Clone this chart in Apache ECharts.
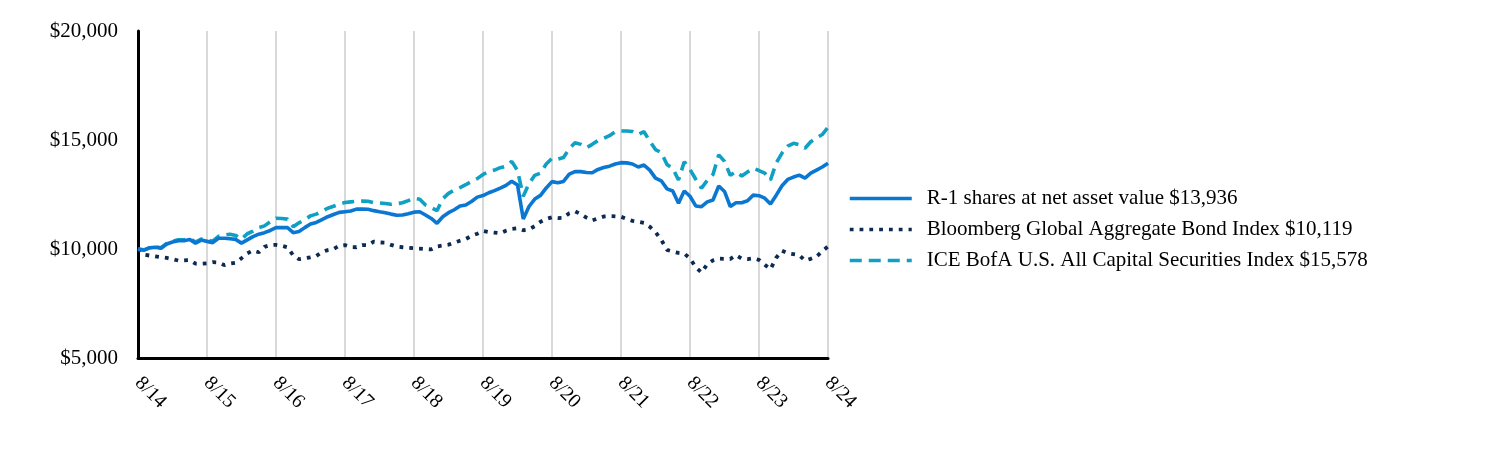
<!DOCTYPE html>
<html>
<head>
<meta charset="utf-8">
<script src="https://cdn.jsdelivr.net/npm/echarts@6/dist/echarts.min.js"></script>
<style>
html,body{margin:0;padding:0;background:#fff;}
#c{width:1512px;height:456px;}
</style>
</head>
<body>
<div id="c"></div>
<script>
// Monthly dates 8/14 .. 8/24
const months = [];
for (let y = 14; y <= 24; y++) {
  const startM = (y === 14) ? 8 : 1;
  const endM = (y === 24) ? 8 : 12;
  for (let m = startM; m <= endM; m++) months.push(m + '/' + y);
}
const yTicks = [5000, 10000, 15000, 20000];

const r1Name = 'R-1 shares at net asset value $13,936';
const bbgName = 'Bloomberg Global Aggregate Bond Index $10,119';
const iceName = 'ICE BofA U.S. All Capital Securities Index $15,578';

const r1Values = [
10000,9940,10050,10080,10030,10230,10320,10380,10380,10440,10270,10410,
10350,10290,10490,10490,10470,10440,10270,10420,10570,10680,10750,10850,
10980,10980,10980,10750,10800,10980,11150,11220,11350,11480,11580,11680,
11710,11740,11830,11830,11820,11760,11710,11665,11600,11545,11560,11620,
11690,11710,11560,11400,11180,11480,11665,11800,11970,12020,12180,12380,
12450,12580,12680,12790,12920,13110,12940,11380,11950,12290,12460,12800,
13090,13040,13100,13430,13550,13550,13510,13500,13650,13740,13800,13900,
13960,13950,13900,13760,13850,13620,13250,13130,12760,12660,12100,12660,
12420,11975,11940,12160,12250,12890,12640,11950,12125,12125,12210,12470,
12445,12330,12060,12470,12900,13190,13300,13390,13250,13480,13620,13760,
13936];

const bbgValues = [
10000,9740,9700,9660,9620,9590,9540,9470,9480,9490,9330,9320,
9340,9400,9380,9260,9330,9370,9580,9800,9930,9850,10100,10180,
10190,10150,10080,9700,9530,9580,9620,9680,9860,9950,10000,10150,
10180,10090,10080,10180,10170,10340,10300,10290,10190,10110,10080,10050,
10035,10020,10000,9980,10120,10160,10200,10290,10380,10460,10600,10700,
10830,10780,10750,10720,10840,10920,10950,10860,10900,11050,11250,11380,
11455,11420,11430,11640,11730,11600,11440,11310,11400,11490,11510,11500,
11480,11380,11290,11250,11200,11020,10780,10420,9960,9880,9820,9790,
9570,9160,8920,9300,9480,9560,9550,9540,9720,9560,9540,9580,
9500,9280,9070,9600,9920,9800,9760,9720,9470,9550,9650,9900,
10119];

const iceValues = [
10000,9960,10060,10100,10060,10260,10360,10420,10420,10480,10320,10460,
10420,10360,10580,10640,10680,10620,10450,10700,10820,10980,11060,11250,
11410,11400,11370,11020,11200,11350,11520,11600,11730,11870,11960,12060,
12130,12160,12190,12200,12190,12120,12110,12090,12050,12080,12120,12220,
12330,12280,12020,11900,11760,12300,12550,12700,12820,12950,13100,13230,
13420,13550,13620,13730,13800,14020,13600,12420,13000,13380,13480,13900,
14160,14120,14200,14600,14880,14800,14650,14800,14980,15080,15200,15380,
15410,15410,15390,15250,15380,14950,14560,14420,13880,13700,13165,14000,
13650,13200,12790,13150,13420,14320,14020,13380,13550,13350,13530,13700,
13600,13480,13165,13950,14400,14720,14850,14780,14620,14920,15100,15250,
15578];

const FONT = "'Liberation Serif','Times New Roman',serif";
const chart = echarts.init(document.getElementById('c'), null, {renderer: 'canvas'});
const yearTick = (i) => i % 12 === 0;

chart.setOption({
  animation: false,
  backgroundColor: '#ffffff',
  textStyle: {fontFamily: FONT, color: '#000'},
  grid: {left: 138, right: 684, top: 31, bottom: 98, containLabel: false},
  legend: {
    orient: 'vertical',
    left: 843,
    top: 183,
    itemWidth: 62,
    itemHeight: 14,
    itemGap: 10,
    data: [r1Name, bbgName, iceName],
    itemStyle: {opacity: 0},
    lineStyle: {width: 3.5},
    textStyle: {fontFamily: FONT, fontSize: 21, color: '#000', padding: [0, 0, 0, 10]}
  },
  xAxis: {
    type: 'category',
    data: months,
    boundaryGap: false,
    axisLine: {show: true, onZero: false, lineStyle: {color: '#000', width: 3}},
    axisTick: {show: false},
    axisLabel: {
      interval: (i) => yearTick(i),
      rotate: -45,
      margin: 22,
      fontFamily: FONT,
      fontSize: 20,
      color: '#000'
    },
    splitLine: {show: true, interval: (i) => yearTick(i) && i > 0, lineStyle: {color: '#d9d9d9', width: 2}}
  },
  yAxis: {
    type: 'value',
    min: yTicks[0],
    max: yTicks[yTicks.length - 1],
    interval: 5000,
    axisLine: {show: true, lineStyle: {color: '#000', width: 3}},
    axisTick: {show: false},
    splitLine: {show: false},
    axisLabel: {
      margin: 20,
      fontFamily: FONT,
      fontSize: 21,
      color: '#000',
      formatter: (v) => '$' + v.toLocaleString('en-US')
    }
  },
  series: [
    {
      name: iceName, type: 'line', data: iceValues, symbol: 'none',
      lineStyle: {color: '#0fa0c3', width: 3.6, type: [12, 7]},
      itemStyle: {color: '#0fa0c3'}, z: 2
    },
    {
      name: bbgName, type: 'line', data: bbgValues, symbol: 'none',
      lineStyle: {color: '#0c2a52', width: 3.8, type: [3.8, 6]},
      itemStyle: {color: '#0c2a52'}, z: 3
    },
    {
      name: r1Name, type: 'line', data: r1Values, symbol: 'none',
      lineStyle: {color: '#0a78d2', width: 3.6, type: 'solid'},
      itemStyle: {color: '#0a78d2'}, z: 4
    }
  ]
});
</script>
</body>
</html>
